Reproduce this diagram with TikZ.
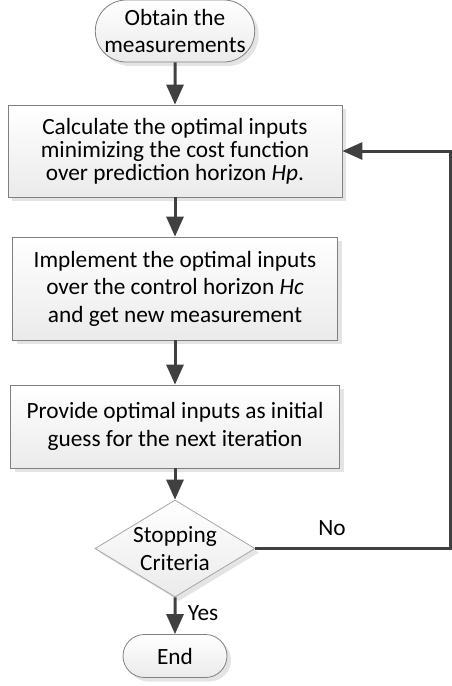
\documentclass[tikz,border=0pt]{standalone}
\usepackage{fontspec}
\setmainfont{Carlito}
\usetikzlibrary{shapes.geometric,shapes.misc,arrows.meta,shadows}
\definecolor{arrowgray}{HTML}{404040}
\definecolor{edgegray}{HTML}{808080}
\begin{document}
\begin{tikzpicture}[x=1pt,y=-1pt,
  font=\fontsize{23.3}{27.5}\selectfont,
  boxbase/.style={draw=edgegray, line width=0.8pt, top color=white, bottom color=gray!16,
    drop shadow={shadow xshift=4pt, shadow yshift=-4pt, fill=gray!30, opacity=0.7},
    align=center, inner sep=0pt},
  procbox/.style={boxbase, rectangle},
  term/.style={boxbase, rounded rectangle},
  decide/.style={boxbase, diamond, aspect=1.65, draw=gray!70},
  flow/.style={draw=arrowgray, line width=3pt, line join=miter,
    -{Triangle[width=17pt,length=20pt]}},
  lbl/.style={inner sep=0pt}
]
\useasboundingbox (0,0) rectangle (451,686);

% flow steps
\node[term, minimum width=153pt, minimum height=62pt] (start) at (175,31)
  {Obtain the\\measurements};
\node[procbox, minimum width=334pt, minimum height=92pt,
  font=\fontsize{23.3}{23}\selectfont] (calc) at (175,151)
  {Calculate the optimal inputs\\minimizing the cost function\\over prediction horizon \textit{Hp}.};
\node[procbox, minimum width=325pt, minimum height=103pt] (impl) at (175,288.5)
  {Implement the optimal inputs\\over the control horizon \textit{Hc}\\and get new measurement};
\node[procbox, minimum width=329pt, minimum height=83pt] (prov) at (175,426.5)
  {Provide optimal inputs as initial\\guess for the next iteration};
\node[decide, minimum width=160pt, minimum height=97pt] (crit) at (175,548.5)
  {Stopping\\Criteria};
\node[term, minimum width=104pt, minimum height=43pt] (stop) at (175,656)
  {End};

% return path of the loop, along the right edge
\coordinate (turnlow) at (450,548.5);
\coordinate (turnhigh) at (450,151);

% connectors
\draw[flow] (start) -- (calc);
\draw[flow] (calc) -- (impl);
\draw[flow] (impl) -- (prov);
\draw[flow] (prov) -- (crit);
\draw[flow] (crit) -- (stop);
\draw[flow] (crit.east) -- (turnlow) -- (turnhigh) -- (calc.east);

% branch labels
\node[lbl] (nolbl) at (332,528) {No};
\node[lbl] (yeslbl) at (203,613) {Yes};
\end{tikzpicture}
\end{document}
